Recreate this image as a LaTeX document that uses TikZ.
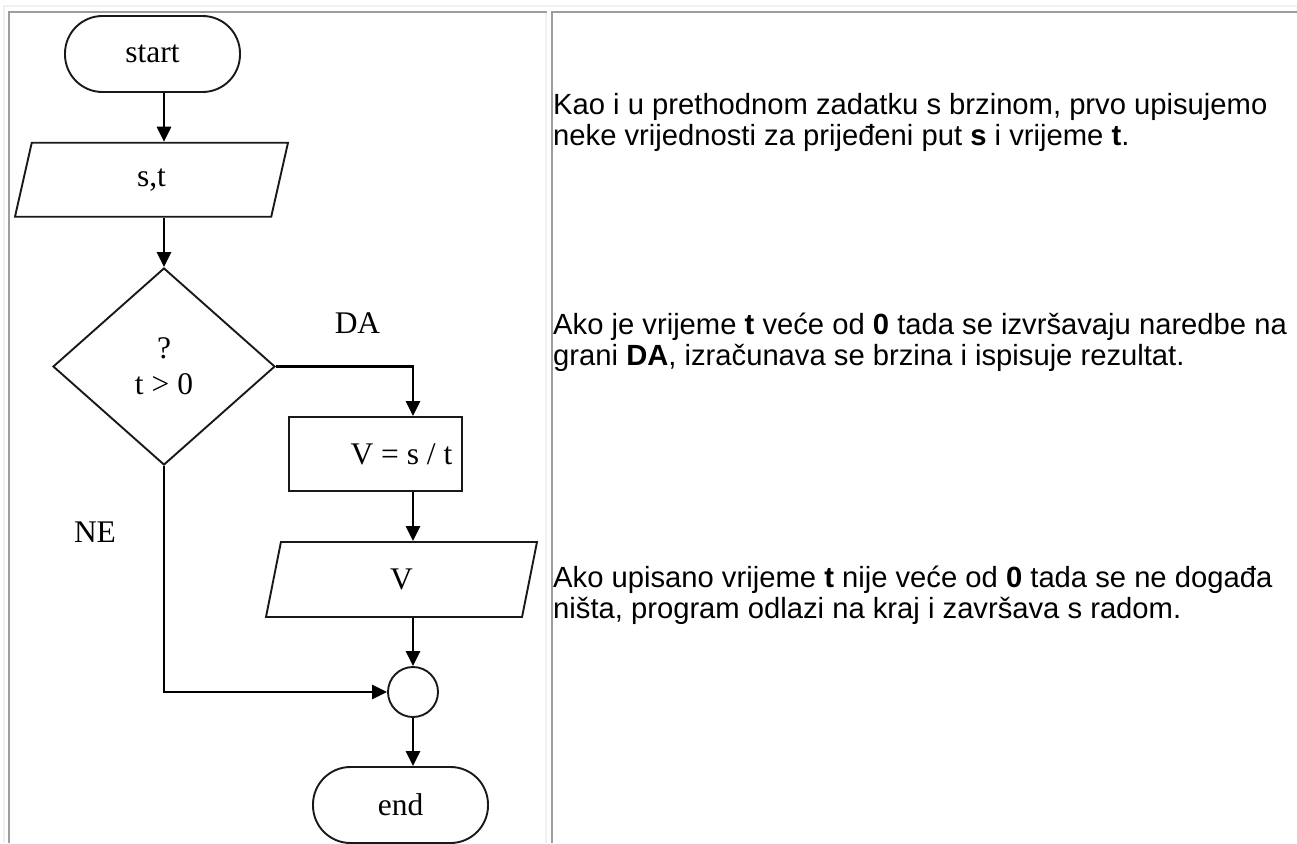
\documentclass[tikz,border=0pt]{standalone}
\usepackage{fontspec}
\setmainfont{Liberation Serif}
\newfontfamily\notefont{Liberation Sans}
\usetikzlibrary{shapes.geometric,arrows.meta}

\begin{document}
\begin{tikzpicture}[x=1pt,y=-1pt,
  chart/.style={font=\fontsize{31.5}{36}\selectfont},
  shapeline/.style={draw=black!90, line width=1.9pt},
  terminal/.style={chart, shapeline, rectangle, minimum width=175pt, minimum height=76pt,
    rounded corners=37.5pt, inner sep=0pt},
  iobox/.style={chart, shapeline, trapezium, trapezium stretches body, inner sep=0pt},
  decision/.style={chart, shapeline, diamond, minimum width=222pt, minimum height=197pt,
    inner sep=0pt, align=center},
  process/.style={chart, shapeline, rectangle, minimum width=173pt, minimum height=74pt, inner sep=0pt},
  junction/.style={shapeline, circle, minimum size=50pt, inner sep=0pt},
  conn/.style={line width=2.7pt, -{Triangle[length=15pt,width=14pt]}},
  branch/.style={chart, inner sep=0pt},
  note/.style={font=\notefont\fontsize{29.2}{31}\selectfont, anchor=north west, align=left, inner sep=0pt},
  darkrule/.style={draw=black!38, line width=2pt},
  lightrule/.style={draw=black!6, line width=2pt}]

\useasboundingbox (0,0) rectangle (1297,843);

% table frame and cell borders
\draw[lightrule] (3.5,843) -- (3.5,6.5) -- (1297,6.5);
\draw[lightrule] (545.5,12.5) -- (545.5,843);
\draw[darkrule] (8.5,843) -- (8.5,12.5) -- (546.5,12.5);
\draw[darkrule] (551.5,843) -- (551.5,12.5) -- (1297,12.5);

% flowchart
\node[terminal] (start) at (152.5,54) {start};
\node[iobox, minimum width=273pt, minimum height=74pt,
  trapezium left angle=53.4, trapezium right angle=126.6] (st) at (151.5,179.7) {s,t};
\node[decision] (dec) at (164,366.5) {?\\t > 0};
\node[process] (calc) at (375.5,454) {\hspace*{52pt}V = s / t};
\node[iobox, minimum width=271pt, minimum height=75pt,
  trapezium left angle=54.7, trapezium right angle=125.3] (out) at (401.5,579.5) {V};
\node[junction] (join) at (413,692) {};
\node[terminal] (end) at (400.5,805) {end};

\node[branch] (yes) at (357.5,323) {DA};
\node[branch] (no) at (95,532) {NE};

\draw[conn] (start.south -| dec.north) -- (st.north -| dec.north);
\draw[conn] (st.south -| dec.north) -- (dec.north);
\draw[conn] (dec.east) -| (calc.north -| join.north);
\draw[conn] (calc.south -| join.north) -- (out.north -| join.north);
\draw[conn] (out.south -| join.north) -- (join.north);
\draw[conn] (dec.south) |- (join.west);
\draw[conn] (join.south) -- (end.north -| join.south);

% explanations
\node[note] (p1) at (553,93) {Kao i u prethodnom zadatku s brzinom, prvo upisujemo\\
  neke vrijednosti za prijeđeni put \textbf{s} i vrijeme \textbf{t}.};
\node[note] (p2) at (553,313) {Ako je vrijeme \textbf{t} veće od \textbf{0} tada se izvršavaju naredbe na\\
  grani \textbf{DA}, izračunava se brzina i ispisuje rezultat.};
\node[note] (p3) at (553,566) {Ako upisano vrijeme \textbf{t} nije veće od \textbf{0} tada se ne događa\\
  ništa, program odlazi na kraj i završava s radom.};
\end{tikzpicture}
\end{document}
